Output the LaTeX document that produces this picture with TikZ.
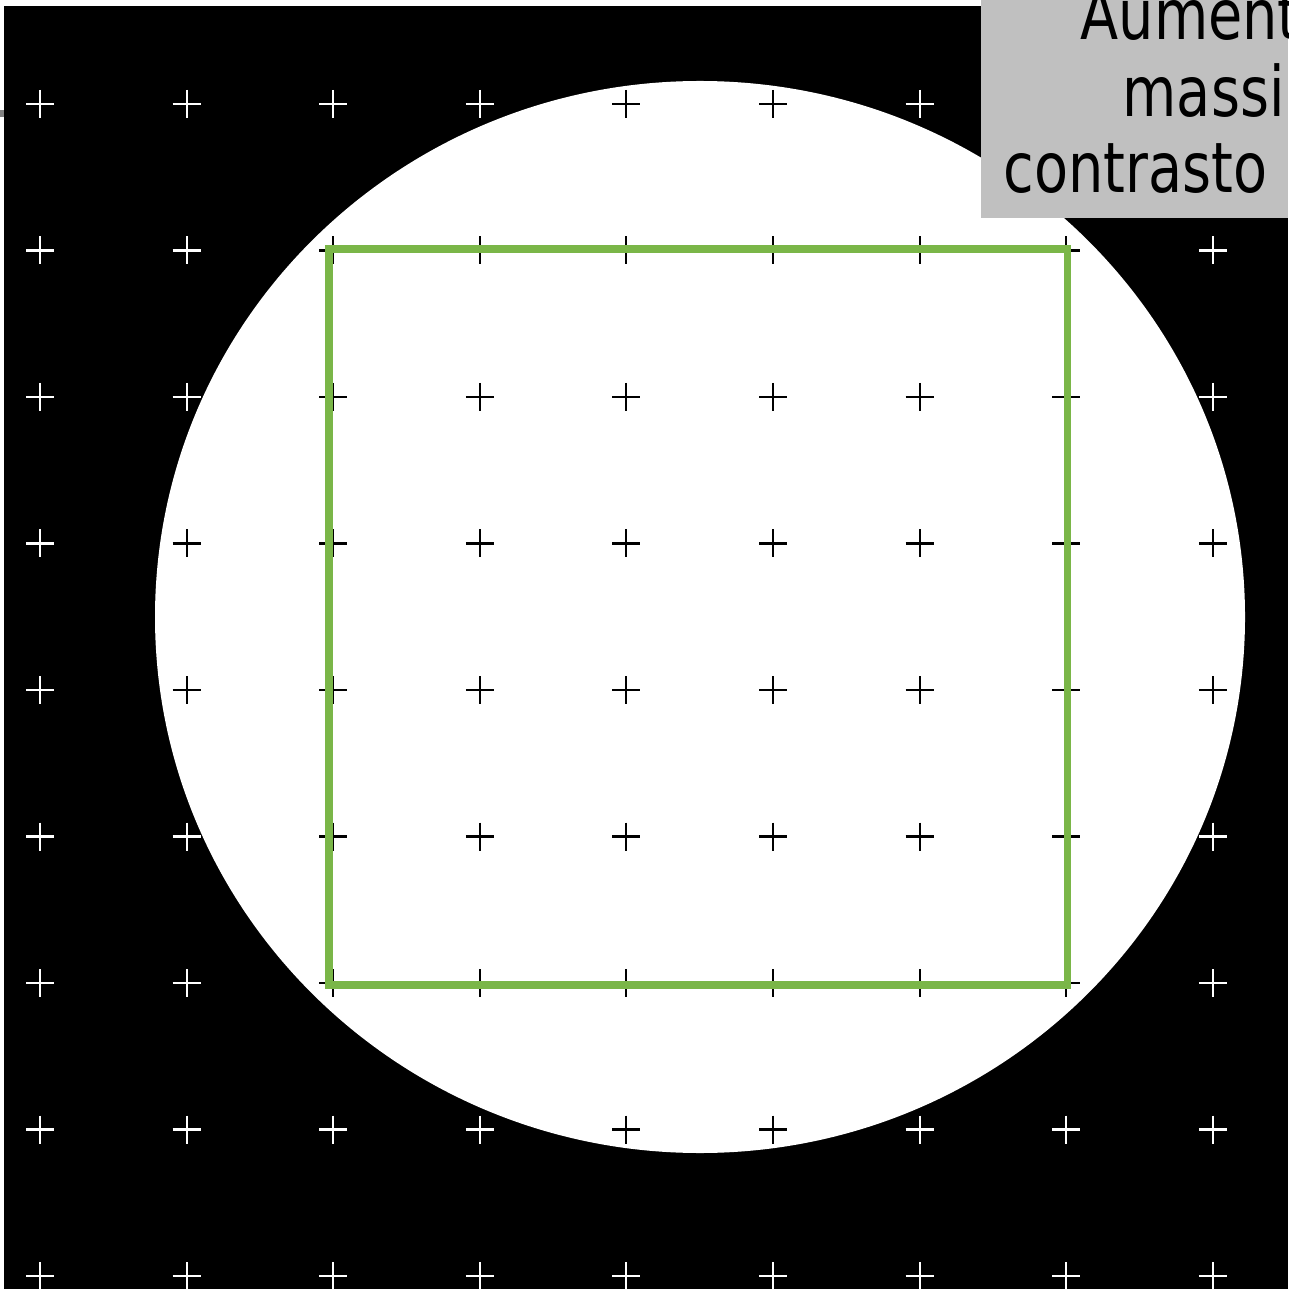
\documentclass[tikz,border=0pt]{standalone}
\usepackage{fontspec}
\usepackage{xcolor}
\newfontfamily\boxfont[FakeStretch=0.8]{DejaVu Sans}
\definecolor{markGreen}{RGB}{122,182,72}
\definecolor{boxGray}{HTML}{C0C0C0}

\tikzset{
  crossline/.style={line width=0.6pt},
  boxtext/.style={anchor=base west, inner sep=0pt, font=\boxfont\fontsize{19.8}{22}\selectfont}
}
\newcommand{\gridcrosses}[1]{%
  \foreach \i in {0,...,8}
    \foreach \j in {0,...,8}
      \draw[crossline, #1] ({40+146.6*\i-14}, {104+146.5*\j}) -- ++(28,0)
                           ({40+146.6*\i}, {104+146.5*\j-14}) -- ++(0,28);
}

\begin{document}
\begin{tikzpicture}[x=0.01cm, y=-0.01cm]
    \useasboundingbox (0,0) rectangle (1288,1289);
    \clip (0,0) rectangle (1288,1289);

    \fill[black] (4,6) rectangle (1288,1289);
    \fill[gray] (0,110) rectangle (4,117);
    \gridcrosses{white}

    % bright disc with dark crosses
    \fill[white] (700,617) ellipse [x radius=545, y radius=536];
    \begin{scope}
        \clip (700,617) ellipse [x radius=545, y radius=536];
        \gridcrosses{black}
    \end{scope}

    \draw[markGreen, line width=2pt] (329,249) rectangle (1067,985);

    \fill[boxGray] (981,0) rectangle (1288,218);
    \node[boxtext] (lineone) at (1080,40) {Aumento};
    \node[boxtext] (linetwo) at (1122,117) {massimo};
    \node[boxtext] (linethree) at (1003,193) {contrasto};
\end{tikzpicture}
\end{document}
